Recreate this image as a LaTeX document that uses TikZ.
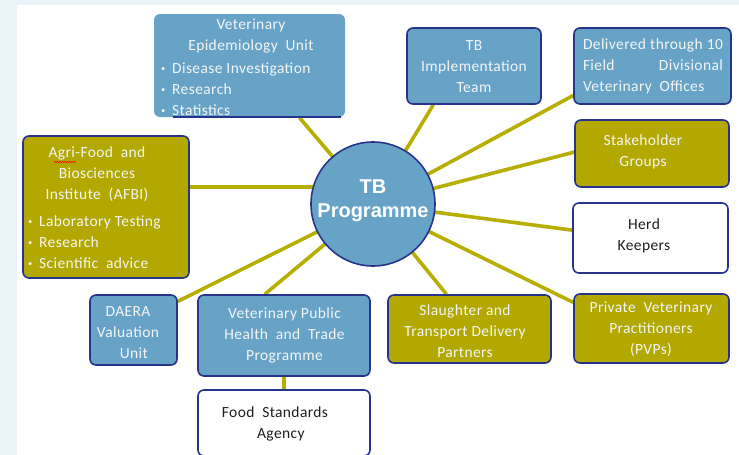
\documentclass[tikz,border=0pt]{standalone}
\usepackage{fontspec}
\setmainfont{Carlito}[LetterSpace=2.5]
\newfontfamily\arialfont{Liberation Sans}
\usetikzlibrary{backgrounds,calc,decorations.pathmorphing}
\definecolor{boxblue}{RGB}{102,163,199}
\definecolor{navy}{RGB}{40,52,140}
\definecolor{olivefill}{RGB}{178,168,0}
\definecolor{oliveline}{RGB}{182,174,0}
\definecolor{framebg}{RGB}{234,244,248}
\definecolor{txtwhite}{RGB}{245,245,245}
\definecolor{txtdark}{RGB}{30,30,30}
\newcommand\bul{\makebox[11pt][l]{\raisebox{0.12em}{\scalebox{0.55}{•}}}}
\begin{document}
\begin{tikzpicture}[x=1pt,y=-1pt,
  box/.style={rounded corners=6pt, draw=navy, line width=1.6pt, inner sep=0pt},
  bluebox/.style={box, fill=boxblue},
  olivebox/.style={box, fill=olivefill},
  whitebox/.style={box, fill=white},
  lbl/.style={inner sep=0pt, align=center, font=\fontsize{15.5}{21}\selectfont, text=txtwhite},
  dlbl/.style={lbl, text=txtdark},
  conn/.style={draw=oliveline, line width=3.6pt},
]
\useasboundingbox (0,0) rectangle (739,455);

% boxes
\node[box, draw=none, fill=boxblue, minimum width=191pt, minimum height=103pt] (veu) at (249.5,65.5) {};
\draw[navy, line width=1.6pt] (173,117) -- (341,117);
\node[bluebox, minimum width=134pt, minimum height=76pt] (tbi) at (474,66) {};
\node[bluebox, minimum width=157pt, minimum height=76pt] (del) at (652.5,66) {};
\node[olivebox, minimum width=154pt, minimum height=67pt] (stk) at (652,153.5) {};
\node[whitebox, minimum width=155pt, minimum height=70pt] (herd) at (650.5,238) {};
\node[olivebox, minimum width=166pt, minimum height=142pt] (afbi) at (106,207) {};
\node[bluebox, minimum width=87pt, minimum height=70pt] (daera) at (133.5,330) {};
\node[bluebox, minimum width=172pt, minimum height=81pt] (vph) at (284,335.5) {};
\node[whitebox, minimum width=172pt, minimum height=66pt] (fsa) at (284,423) {};
\node[olivebox, minimum width=163pt, minimum height=68pt] (sl) at (469.5,329) {};
\node[olivebox, minimum width=155pt, minimum height=69pt] (pvp) at (651.5,328.5) {};
\node[circle, draw=navy, line width=1.6pt, fill=boxblue, minimum size=124pt, inner sep=0pt] (tb) at (373,204) {};

% labels
\node[lbl] (veuT) at (251,35.5) {Veterinary\\Epidemiology\ \ Unit};
\node[lbl, align=left, anchor=west] (veuB) at (161,89) {\bul Disease Investigation\\\bul Research\\\bul Statistics};
\node[lbl] (tbiT) at (474,67) {TB\\Implementation\\Team};
\node[lbl, align=left] (delT) at (653,66) {\hbox to 140pt{Delivered\hfill through\hfill 10}\\\hbox to 140pt{Field\hfill Divisional}\\\hbox to 140pt{Veterinary\ \ Offices\hfill}};
\node[lbl] (stkT) at (643,152) {Stakeholder\\Groups};
\node[dlbl] (herdT) at (644,236) {Herd\\Keepers};
\node[lbl] (afbiT) at (97,174) {Agri-Food\ \ and\\Biosciences\\Institute\ \ (AFBI)};
\draw[red, line width=0.5pt, decorate, decoration={snake, amplitude=0.7pt, segment length=2.5pt}] (54,162) -- (76,162);
\node[lbl, align=left, anchor=west] (afbiB) at (28,242) {\bul Laboratory Testing\\\bul Research\\\bul Scientific\ \ advice};
\node[lbl] (daeraT) at (128,333) {DAERA\\Valuation\\\ \ \ Unit};
\node[lbl] (vphT) at (284.5,335) {Veterinary Public\\Health\ \ and\ \ Trade\\Programme};
\node[dlbl] (fsaT) at (275,423.5) {Food\ \ Standards\\\ \ \ Agency};
\node[lbl] (slT) at (465,331) {Slaughter and\\Transport Delivery\\Partners};
\node[lbl] (pvpT) at (651,329) {Private\ \ Veterinary\\Practitioners\\(PVPs)};
\node[inner sep=0pt, align=center, text=white, font=\arialfont\bfseries\fontsize{20}{24}\selectfont] (tbT) at (373,201) {TB\\Programme};

% frame and connectors behind
\begin{scope}[on background layer]
\fill[framebg] (0,0) rectangle (739,455);
\fill[white] (17,5) rectangle (739,455);
\draw[conn] (tb.center) -- ($(veu.south west)!0.76!(veu.south east)$);
\draw[conn] (tb.center) -- ($(tbi.south west)!0.2!(tbi.south east)$);
\draw[conn] (tb.center) -- ($(del.north west)!0.88!(del.south west)$);
\draw[conn] (tb.center) -- ($(stk.north west)!0.48!(stk.south west)$);
\draw[conn] (tb.center) -- ($(herd.north west)!0.39!(herd.south west)$);
\draw[conn] (tb.center) -- ($(pvp.north west)!0.13!(pvp.south west)$);
\draw[conn] (tb.center) -- ($(sl.north west)!0.36!(sl.north east)$);
\draw[conn] (tb.center) -- ($(vph.north west)!0.39!(vph.north east)$);
\draw[conn] (tb.center) -- ($(daera.north east)!0.1!(daera.south east)$);
\coordinate (afbiP) at ($(afbi.north east)!0.36!(afbi.south east)$);
\draw[conn] (afbiP) -- (afbiP -| tb.center);
\draw[conn] (vph.south) -- (fsa.north);
\end{scope}
\end{tikzpicture}
\end{document}
